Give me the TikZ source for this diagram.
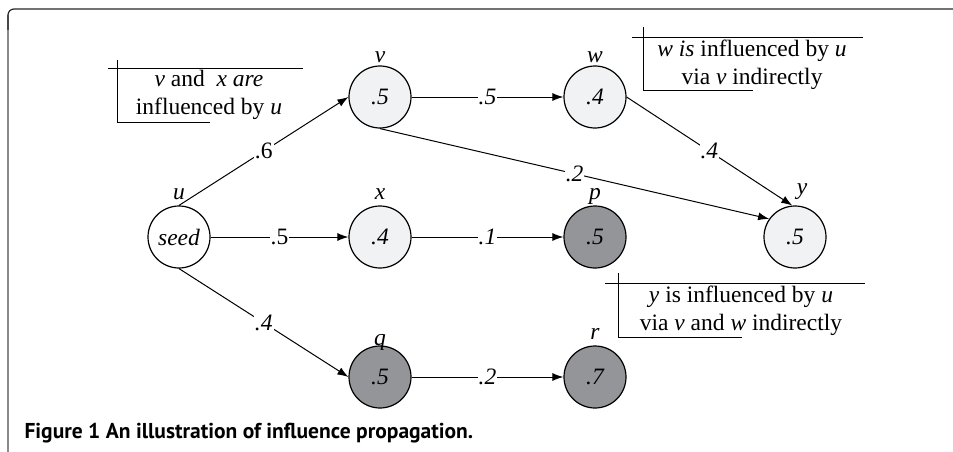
\documentclass[tikz,border=0pt]{standalone}
\usepackage{fontspec}
\setmainfont{Liberation Serif}
\newfontfamily\capfont{PT Sans}
\usetikzlibrary{arrows.meta}
\definecolor{seenfill}{HTML}{F1F2F4}
\definecolor{blockfill}{HTML}{939598}
\definecolor{framegray}{HTML}{8A8A8A}
\newcommand\figsize{\fontsize{23.5}{28}\selectfont}
\tikzset{
 inf/.style={circle,draw,line width=1.2pt,minimum size=62pt,inner sep=0pt,font=\figsize\itshape},
 reached/.style={inf,fill=seenfill},
 blocked/.style={inf,fill=blockfill},
 tag/.style={anchor=base,yshift=6pt,font=\figsize\itshape},
 prob/.style={fill=white,inner sep=1pt,font=\figsize\itshape},
 edge/.style={-{Latex[length=11pt,width=8pt]},line width=1pt},
 note/.style={align=center,font=\figsize}
}

\begin{document}
\begin{tikzpicture}[x=1pt,y=-1pt]
\useasboundingbox (0,0) rectangle (953,452);
\draw[framegray,line width=1.6pt] (8,452)--(8,15);
\draw[black!85,line width=1.2pt,rounded corners=6pt] (8,30)--(8,9)--(953,9);

\node[inf,label={[tag]above:u}] (u) at (179,237) {seed};
\node[reached,label={[tag,yshift=-3pt]above:v}] (v) at (380,97) {.5};
\node[reached,label={[tag,yshift=-3pt]above:w}] (w) at (595,97) {.4};
\node[reached,label={[tag]above:x}] (x) at (380,237) {.4};
\node[blocked,label={[tag]above:p}] (p) at (595,237) {.5};
\node[reached,label={[tag,xshift=7pt,yshift=5pt]above:y}] (y) at (795,237) {.5};
\node[blocked,label={[tag,yshift=-6pt]above:q}] (q) at (380,377) {.5};
\node[blocked,label={[tag]above:r}] (r) at (595,377) {.7};

\draw[edge] (u.north) -- node[prob,font=\figsize\upshape]{.6} (v.west);
\draw[edge] (u.east) -- node[prob,font=\figsize\upshape]{.5} (x.west);
\draw[edge] (u.south) -- node[prob]{.4} (q.west);
\draw[edge] (v.east) -- node[prob]{.5} (w.west);
\draw[edge] (v.south) -- node[prob]{.2} (y.145);
\draw[edge] (w.east) -- node[prob]{.4} (y.95);
\draw[edge] (x.east) -- node[prob]{.1} (p.west);
\draw[edge] (q.east) -- node[prob]{.2} (r.west);

\node[note] (notevx) at (209,95) {\textit{v} and\ \ \textit{x are}\\influenced by \textit{u}};
\draw (108,68)--(303,68) (117,60)--(117,122)--(210,122);
\node[note] (notew) at (752,65) {\textit{w is} influenced by \textit{u}\\via \textit{v} indirectly};
\draw (632,37)--(863,37) (643,27)--(643,90)--(753,90);
\node[note] (notey) at (741,311) {\textit{y} is influenced by \textit{u}\\via \textit{v} and \textit{w} indirectly};
\draw (605,283)--(865,283) (618,273)--(618,337)--(742,337);

\node[anchor=base west,font=\capfont\bfseries\fontsize{21.5}{25}\selectfont] (caption) at (21,438) {Figure 1 An illustration of influence propagation.};
\end{tikzpicture}
\end{document}
